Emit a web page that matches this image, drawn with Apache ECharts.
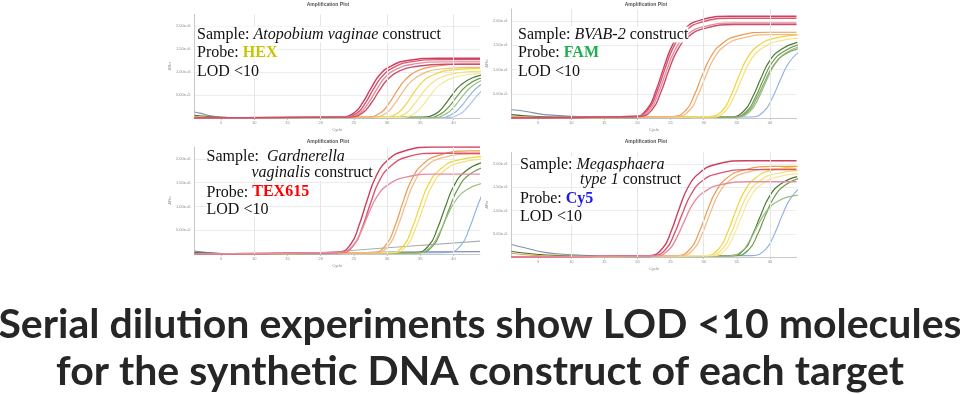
<!DOCTYPE html>
<html><head><meta charset="utf-8">
<script src="https://cdn.jsdelivr.net/npm/echarts@6/dist/echarts.min.js"></script>
<style>html,body{margin:0;padding:0;background:#fff}#c{width:960px;height:394px}</style>
</head><body><div id="c"></div>
<script>
// ---------- tick labels ----------
const xTickValues = [5, 10, 15, 20, 25, 30, 35, 40];
const xGridValues = [10, 20, 30, 40];
const yTickLabels = ['', '5.00e+5', '1.00e+6', '1.50e+6', '2.00e+6'];
const panelTitle = 'Amplification Plot';
const xName = 'Cycle';
const yName = 'ΔRn';
const headline1 = 'Serial dilution experiments show LOD <10 molecules';
const headline2 = 'for the synthetic DNA construct of each target';

// ---------- Panel 1: Atopobium vaginae (HEX) ; values in millions ----------
const p1Red = [
  [[1,0],[23.1,0.02],[25.1,0.12],[26.4,0.35],[27.6,0.65],[28.9,0.94],[30.6,1.13],[33.1,1.25],[37.6,1.30],[44,1.30]],
  [[1,0],[23.5,0.02],[25.5,0.11],[26.8,0.34],[28,0.64],[29.3,0.91],[31,1.10],[33.5,1.22],[38,1.27],[44,1.27]],
  [[1,0],[23.9,0.02],[25.9,0.11],[27.2,0.33],[28.4,0.61],[29.7,0.88],[31.4,1.06],[33.9,1.17],[38.4,1.22],[44,1.22]],
  [[1,0],[24.3,0.02],[26.3,0.11],[27.6,0.32],[28.8,0.59],[30.1,0.84],[31.8,1.02],[34.3,1.12],[38.8,1.17],[44,1.17]]
];
const p1Orange = [
  [[1,0],[27,0.02],[29,0.11],[30.3,0.32],[31.5,0.59],[32.8,0.84],[34.5,1.02],[37,1.12],[41.5,1.17],[44,1.17]],
  [[1,0],[27.8,0.02],[29.8,0.10],[31.1,0.30],[32.3,0.55],[33.6,0.79],[35.3,0.96],[37.8,1.06],[42.3,1.10],[44,1.10]]
];
const p1Yellow = [
  [[1,0],[29.5,0.02],[31.5,0.10],[32.8,0.29],[34,0.54],[35.3,0.78],[37,0.94],[39.5,1.04],[44,1.08]],
  [[1,0],[30.7,0.02],[32.7,0.09],[34,0.28],[35.2,0.51],[36.5,0.73],[38.2,0.89],[40.7,0.98],[45.2,1.02]],
  [[1,0],[32,0.01],[34,0.09],[35.3,0.26],[36.5,0.49],[37.8,0.71],[39.5,0.85],[42,0.94],[46.5,0.98]]
];
const p1Green = [
  [[1,0],[35.3,0.02],[37.3,0.09],[38.6,0.27],[39.8,0.5],[41.1,0.72],[42.8,0.87],[45.3,0.96]],
  [[1,0],[36.1,0.01],[38.1,0.09],[39.4,0.26],[40.6,0.48],[41.9,0.69],[43.6,0.84],[46.1,0.92]],
  [[1,0],[36.9,0.01],[38.9,0.09],[40.2,0.26],[41.4,0.48],[42.7,0.68],[44.4,0.83]]
];
const p1Blue = [
  [[1,0],[37.9,0.01],[39.9,0.09],[41.2,0.26],[42.4,0.48],[43.7,0.68],[45.4,0.83]],
  [[1,0],[38.9,0.01],[40.9,0.08],[42.2,0.25],[43.4,0.46],[44.7,0.66]]
];
const p1Base = [
  [[1,0.13],[2,0.1],[3,0.06],[5,0.02],[8,0.005],[14,0]],
  [[1,0.06],[3,0.035],[6,0.012],[12,0]],
  [[1,0.03],[4,0.015],[10,0]]
];

// ---------- Panel 2: BVAB-2 (FAM) ----------
const p2Red = [
  [[1,0],[19.5,0.03],[21.5,0.19],[22.8,0.57],[24,1.05],[25.3,1.51],[27,1.83],[29.5,2.02],[34,2.10],[44,2.10]],
  [[1,0],[19.7,0.03],[21.7,0.19],[23,0.56],[24.2,1.03],[25.5,1.48],[27.2,1.79],[29.7,1.98],[34.2,2.06],[44,2.06]],
  [[1,0],[19.9,0.03],[21.9,0.18],[23.2,0.53],[24.4,0.98],[25.7,1.41],[27.4,1.71],[29.9,1.88],[34.4,1.96],[44,1.96]],
  [[1,0],[20.2,0.03],[22.2,0.17],[23.5,0.52],[24.7,0.97],[26,1.39],[27.7,1.68],[30.2,1.85],[34.7,1.93],[44,1.93]]
];
const p2Orange = [
  [[1,0],[25.3,0.03],[27.3,0.16],[28.6,0.48],[29.8,0.89],[31.1,1.27],[32.8,1.54],[35.3,1.70],[39.8,1.77],[44,1.77]],
  [[1,0],[25.8,0.03],[27.8,0.15],[29.1,0.46],[30.3,0.86],[31.6,1.24],[33.3,1.50],[35.8,1.65],[40.3,1.72],[44,1.72]]
];
const p2Yellow = [
  [[1,0],[30.8,0.03],[32.8,0.15],[34.1,0.46],[35.3,0.86],[36.6,1.24],[38.3,1.50],[40.8,1.65],[45.3,1.72]],
  [[1,0],[31.3,0.02],[33.3,0.15],[34.6,0.45],[35.8,0.83],[37.1,1.2],[38.8,1.44],[41.3,1.59],[45.8,1.66]]
];
const p2Green = [
  [[1,0],[34.1,0.02],[36.1,0.15],[37.4,0.44],[38.6,0.81],[39.9,1.17],[41.6,1.41],[44.1,1.56]],
  [[1,0],[34.5,0.02],[36.5,0.14],[37.8,0.43],[39,0.79],[40.3,1.14],[42,1.37],[44.5,1.52]],
  [[1,0],[35,0.02],[37,0.14],[38.3,0.42],[39.5,0.78],[40.8,1.12],[42.5,1.35],[45,1.49]],
  [[1,0],[34.7,0.02],[36.7,0.14],[38,0.41],[39.2,0.75],[40.5,1.08],[42.2,1.31],[44.7,1.44]]
];
const p2Blue = [
  [[1,0],[37.1,0.02],[39.1,0.14],[40.4,0.43],[41.6,0.8],[42.9,1.15],[44.6,1.39]]
];
const p2Base = [
  [[1,0.17],[3,0.14],[6,0.07],[12,0.03],[20,0.01],[28,0]],
  [[1,0.07],[5,0.03],[12,0.01],[20,0]],
  [[1,0.03],[6,0.012],[15,0]]
];

// ---------- Panel 3: Gardnerella vaginalis (TEX615) ----------
const p3Red = [
  [[1,0],[22.5,0.03],[24.5,0.2],[25.8,0.61],[27,1.13],[28.3,1.62],[30,1.96],[32.5,2.16],[37,2.25],[44,2.25]],
  [[1,0],[23,0.03],[25,0.19],[26.3,0.57],[27.5,1.06],[28.8,1.53],[30.5,1.84],[33,2.04],[37.5,2.12],[44,2.12]],
  [[1,0],[22.7,0.03],[24.7,0.15],[26,0.45],[27.2,0.84],[28.5,1.21],[30.2,1.46],[32.7,1.61],[37.2,1.68],[44,1.68]]
];
const p3Orange = [
  [[1,0],[27.9,0.03],[29.9,0.2],[31.2,0.59],[32.4,1.09],[33.7,1.56],[35.4,1.89],[37.9,2.08],[42.4,2.17],[44,2.17]],
  [[1,0],[28.3,0.03],[30.3,0.19],[31.6,0.57],[32.8,1.05],[34.1,1.51],[35.8,1.83],[38.3,2.02],[42.8,2.10],[44,2.10]]
];
const p3Yellow = [
  [[1,0],[30.5,0.03],[32.5,0.18],[33.8,0.55],[35,1.03],[36.3,1.48],[38,1.78],[40.5,1.97],[45,2.05]],
  [[1,0],[31,0.03],[33,0.18],[34.3,0.54],[35.5,1.0],[36.8,1.44],[38.5,1.74],[41,1.92],[45.5,2.0]]
];
const p3Green = [
  [[1,0],[34.3,0.03],[36.3,0.18],[37.6,0.54],[38.8,1.0],[40.1,1.44],[41.8,1.74],[44.3,1.92]],
  [[1,0],[34.9,0.03],[36.9,0.17],[38.2,0.52],[39.4,0.96],[40.7,1.38],[42.4,1.67],[44.9,1.84]],
  [[1,0],[34.5,0.02],[36.5,0.14],[37.8,0.42],[39,0.78],[40.3,1.12],[42,1.35],[44.5,1.49]]
];
const p3Blue = [
  [[1,0],[39.1,0.03],[41.1,0.18],[42.4,0.54],[43.6,1.0],[44.9,1.44]]
];
const p3Base = [
  [[1,0.06],[3,0.03],[8,0],[20,0],[30,0.04],[44,0.05]],
  [[1,0.03],[5,0.01],[12,0]]
];
const p3Drift = [[1,0],[18,0],[29,0.12],[44,0.27]];

// ---------- Panel 4: Megasphaera type 1 (Cy5) ----------
const p4Red = [
  [[1,0],[21.8,0.03],[23.8,0.19],[25.1,0.56],[26.3,1.04],[27.6,1.49],[29.3,1.8],[31.8,1.99],[36.3,2.07],[44,2.07]],
  [[1,0],[22.3,0.03],[24.3,0.17],[25.6,0.51],[26.8,0.94],[28.1,1.35],[29.8,1.64],[32.3,1.8],[36.8,1.88],[44,1.88]],
  [[1,0],[22.7,0.02],[24.7,0.15],[26,0.44],[27.2,0.81],[28.5,1.17],[30.2,1.41],[32.7,1.56],[37.2,1.62],[44,1.62]]
];
const p4Orange = [
  [[1,0],[26,0.03],[28,0.18],[29.3,0.53],[30.5,0.98],[31.8,1.4],[33.5,1.7],[36,1.87],[40.5,1.95],[44,1.95]],
  [[1,0],[26.5,0.03],[28.5,0.17],[29.8,0.51],[31,0.95],[32.3,1.37],[34,1.65],[36.5,1.82],[41,1.9],[44,1.9]]
];
const p4Yellow = [
  [[1,0],[30.3,0.03],[32.3,0.18],[33.6,0.53],[34.8,0.98],[36.1,1.4],[37.8,1.7],[40.3,1.87],[44.8,1.95]],
  [[1,0],[30.8,0.03],[32.8,0.17],[34.1,0.5],[35.3,0.93],[36.6,1.34],[38.3,1.62],[40.8,1.79],[45.3,1.86]],
  [[1,0],[31.3,0.03],[33.3,0.16],[34.6,0.49],[35.8,0.9],[37.1,1.3],[38.8,1.57],[41.3,1.73],[45.8,1.8]]
];
const p4Green = [
  [[1,0],[34.1,0.03],[36.1,0.16],[37.4,0.49],[38.6,0.9],[39.9,1.3],[41.6,1.57],[44.1,1.73]],
  [[1,0],[34.8,0.03],[36.8,0.16],[38.1,0.48],[39.3,0.89],[40.6,1.28],[42.3,1.55],[44.8,1.71]],
  [[1,0],[33.7,0.02],[35.7,0.12],[37,0.37],[38.2,0.69],[39.5,0.99],[41.2,1.2],[43.7,1.32],[48.2,1.38]]
];
const p4Blue = [
  [[1,0],[37.3,0.03],[39.3,0.16],[40.6,0.47],[41.8,0.88],[43.1,1.26],[44.8,1.52]]
];
const p4Base = [
  [[1,0.27],[3,0.2],[6,0.1],[10,0.05],[15,0.02],[22,0.01],[30,0]],
  [[1,0.12],[4,0.07],[8,0.03],[14,0.01],[22,0]],
  [[1,0.08],[5,0.03],[12,0.01],[20,0]]
];

// ---------- styles ----------
const redShades = ['#cf3f5e', '#d9566f', '#e68ea2', '#c9506a'];
const orangeShades = ['#ec9a52', '#f2ba86'];
const yellowShades = ['#f0d53a', '#f4e07a', '#f6e89a'];
const greenShades = ['#4d7a31', '#6e9a4f', '#9dbd83', '#87a96b'];
const blueShades = ['#8db0e2', '#a8c3ea'];
const baseShades = ['#7f93aa', '#3f6a36', '#e9a04c'];

const grids = [
  {left: 194.5, top: 14.5, width: 285.5, height: 103.5},
  {left: 511.5, top: 9, width: 285, height: 109},
  {left: 194.5, top: 147, width: 285.5, height: 107},
  {left: 511.5, top: 152.4, width: 285, height: 104.6}
];

const panels = [
  {red: p1Red, orange: p1Orange, yellow: p1Yellow, green: p1Green, blue: p1Blue, base: p1Base, drift: null},
  {red: p2Red, orange: p2Orange, yellow: p2Yellow, green: p2Green, blue: p2Blue, base: p2Base, drift: null},
  {red: p3Red, orange: p3Orange, yellow: p3Yellow, green: p3Green, blue: p3Blue, base: p3Base, drift: p3Drift},
  {red: p4Red, orange: p4Orange, yellow: p4Yellow, green: p4Green, blue: p4Blue, base: p4Base, drift: null}
];

const xAxes = [], yAxes = [], series = [];
grids.forEach((g, i) => {
  xAxes.push({
    gridIndex: i, type: 'value', min: 1, max: 44,
    axisLine: {show: true, lineStyle: {color: '#c8c8c8', width: 1}},
    axisTick: {show: true, customValues: xTickValues, length: 2, lineStyle: {color: '#c8c8c8'}},
    axisLabel: {customValues: xTickValues, fontSize: 4, color: '#8a8a8a', margin: 3, fontFamily: 'Arial'},
    splitLine: {show: false},
    name: xName, nameLocation: 'middle', nameGap: 10,
    nameTextStyle: {fontSize: 4, color: '#8a8a8a', fontFamily: 'Arial'}
  });
  yAxes.push({
    gridIndex: i, type: 'value', min: 0, max: 2.25, interval: 0.5,
    axisLine: {show: true, lineStyle: {color: '#c8c8c8', width: 1}},
    axisTick: {show: false},
    axisLabel: {fontSize: 4, color: '#8a8a8a', margin: 4, fontFamily: 'Arial', showMaxLabel: false,
      formatter: v => yTickLabels[Math.round(v / 0.5)] || ''},
    splitLine: {show: true, showMaxLine: false, lineStyle: {color: '#ececec', width: 1}},
    name: yName, nameLocation: 'middle', nameGap: 15, nameRotate: 90,
    nameTextStyle: {fontSize: 4, color: '#8a8a8a', fontFamily: 'Arial'}
  });
  series.push({
    type: 'line', xAxisIndex: i, yAxisIndex: i, data: [[1, 0]], z: 1,
    showSymbol: false, lineStyle: {opacity: 0}, silent: true,
    markLine: {silent: true, symbol: 'none', label: {show: false},
      lineStyle: {color: '#e6e6e6', type: 'solid', width: 1},
      data: xGridValues.map(v => ({xAxis: v}))}
  });
  const p = panels[i];
  const add = (curves, shades, w) => curves.forEach((c, k) => series.push({
    type: 'line', xAxisIndex: i, yAxisIndex: i, data: c, z: 2,
    smooth: 0.5, showSymbol: false, silent: true,
    lineStyle: {color: shades[k % shades.length], width: w}
  }));
  add(p.base, baseShades, 1.1);
  if (p.drift) series.push({type: 'line', xAxisIndex: i, yAxisIndex: i, data: p.drift, z: 2,
    showSymbol: false, silent: true, lineStyle: {color: '#a9aeb3', width: 1.1}});
  add(p.blue, blueShades, 1.1);
  add(p.green, greenShades, 1.2);
  add(p.yellow, yellowShades, 1.2);
  add(p.orange, orangeShades, 1.2);
  add(p.red, redShades, 1.4);
});

// ---------- text overlays ----------
const serif = 'Liberation Serif';
const rich = (probeColor) => ({
  n: {fontFamily: serif, fontSize: 16, fill: '#111'},
  i: {fontFamily: serif, fontSize: 16, fontStyle: 'italic', fill: '#111'},
  p: {fontFamily: serif, fontSize: 16, fontWeight: 'bold', fill: probeColor}
});
const txt = (x, y, text, probeColor) => ({
  type: 'text', z: 100, silent: true,
  style: {x: x, y: y, text: text, rich: rich(probeColor), align: 'left', verticalAlign: 'middle',
    textAlign: 'left', textVerticalAlign: 'middle', backgroundColor: '#fff'}
});
const small = (x, y, text) => ({
  type: 'text', z: 100, silent: true,
  style: {x: x, y: y, text: text, font: 'bold 5px Arial', fill: '#555', align: 'center', verticalAlign: 'middle',
    textAlign: 'center', textVerticalAlign: 'middle'}
});
const big = (y, text) => ({
  type: 'text', z: 100, silent: true,
  style: {x: 480, y: y, text: text, font: 'bold 41px Lato', fill: '#262626', align: 'center', verticalAlign: 'middle',
    textAlign: 'center', textVerticalAlign: 'middle'}
});

const graphics = [
  small(328, 5, panelTitle), small(646, 5, panelTitle), small(328, 142, panelTitle), small(646, 142, panelTitle),
  txt(197, 34.6, '{n|Sample: }{i|Atopobium vaginae}{n| construct}', '#c8c400'),
  txt(197, 53, '{n|Probe: }{p|HEX}', '#c8c400'),
  txt(197, 71.3, '{n|LOD <10}', '#000'),
  txt(518, 34.6, '{n|Sample: }{i|BVAB-2}{n| construct}', '#1fae4e'),
  txt(518, 53, '{n|Probe: }{p|FAM}', '#1fae4e'),
  txt(518, 71.3, '{n|LOD <10}', '#000'),
  txt(206.5, 156.3, '{n|Sample:  }{i|Gardnerella}', '#f00'),
  txt(251.5, 173, '{i|vaginalis}{n| construct}', '#f00'),
  txt(206.5, 192.3, '{n|Probe: }{p|TEX615}', '#ff0000'),
  txt(206.5, 209.6, '{n|LOD <10}', '#000'),
  txt(520, 164.6, '{n|Sample: }{i|Megasphaera}', '#00f'),
  txt(580, 179.6, '{i|type 1}{n| construct}', '#00f'),
  txt(520, 199, '{n|Probe: }{p|Cy5}', '#1a1aee'),
  txt(520, 217, '{n|LOD <10}', '#000'),
  big(325, headline1),
  big(372, headline2)
];

const chart = echarts.init(document.getElementById('c'), null, {renderer: 'canvas'});
chart.setOption({
  animation: false,
  backgroundColor: '#fff',
  grid: grids,
  xAxis: xAxes,
  yAxis: yAxes,
  series: series,
  graphic: graphics
});
</script></body></html>
